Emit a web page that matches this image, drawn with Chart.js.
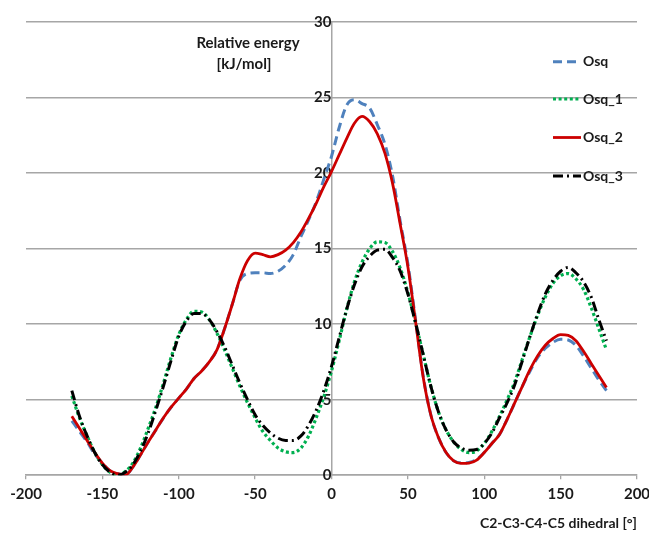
<!DOCTYPE html>
<html>
<head>
<meta charset="utf-8">
<script src="https://cdn.jsdelivr.net/npm/chart.js@4/dist/chart.umd.min.js"></script>
<style>
  html, body { margin: 0; padding: 0; background: #ffffff; }
  #wrap { width: 649px; height: 536px; position: relative; }
</style>
</head>
<body>
<div id="wrap"><canvas id="c" width="649" height="536"></canvas></div>
<script>
// Dihedral angle C2-C3-C4-C5 [deg]
const dihedral = [-170,-165,-160,-155,-150,-145,-140,-135,-130,-125,-120,-115,-110,-105,-100,-95,-90,-85,-80,-75,-70,-65,-60,-55,-50,-45,-40,-35,-30,-25,-20,-15,-10,-5,0,5,10,15,20,25,30,35,40,45,50,55,60,65,70,75,80,85,90,95,100,105,110,115,120,125,130,135,140,145,150,155,160,165,170,175,180];

// Relative energy [kJ/mol]
const osq = [3.6,2.9,2.2,1.4,0.8,0.3,0.1,0.0,0.55,1.35,2.2,3.0,3.8,4.5,5.1,5.7,6.4,6.9,7.5,8.3,9.7,11.3,12.9,13.35,13.4,13.4,13.35,13.5,13.9,14.6,15.8,16.9,18.1,19.6,21.1,23.0,24.5,24.85,24.6,24.3,23.2,21.9,19.8,16.8,14.0,10.3,6.6,4.0,2.5,1.5,0.95,0.8,0.85,1.05,1.5,2.1,2.7,3.7,4.8,5.9,6.9,7.8,8.4,8.8,9.0,8.95,8.6,7.9,7.1,6.3,5.6];
const osq1 = [5.25,3.8,2.6,1.5,0.7,0.2,0.0,0.25,0.8,1.8,3.1,4.5,6.1,7.8,9.3,10.3,10.85,10.8,10.3,9.4,8.3,7.1,5.9,4.8,3.8,2.9,2.3,1.8,1.55,1.5,1.8,2.6,3.8,5.2,6.9,8.9,11.0,12.8,14.1,15.0,15.45,15.4,14.8,13.7,12.1,10.1,8.0,5.9,4.2,3.0,2.2,1.7,1.5,1.6,2.1,2.9,3.9,5.0,6.2,7.7,9.2,10.6,11.8,12.7,13.2,13.35,13.0,12.3,11.1,9.7,8.3];
const osq2 = [3.9,3.1,2.3,1.5,0.8,0.3,0.1,0.0,0.55,1.35,2.2,3.0,3.8,4.5,5.1,5.7,6.4,6.9,7.5,8.3,9.7,11.3,13.0,14.2,14.7,14.6,14.45,14.6,14.9,15.4,16.1,17.0,18.0,19.1,20.1,21.2,22.3,23.3,23.75,23.4,22.6,21.3,19.3,16.6,13.8,10.2,6.5,4.0,2.5,1.5,0.95,0.78,0.8,1.0,1.5,2.1,2.7,3.7,4.8,5.9,7.0,7.9,8.6,9.05,9.3,9.25,8.9,8.2,7.4,6.6,5.8];
const osq3 = [5.6,3.9,2.6,1.5,0.7,0.2,0.0,0.2,0.7,1.6,2.8,4.3,5.9,7.6,9.2,10.2,10.7,10.7,10.3,9.5,8.5,7.3,6.1,5.0,4.0,3.3,2.8,2.45,2.3,2.3,2.6,3.3,4.3,5.6,7.2,9.1,11.0,12.6,13.8,14.5,14.9,14.95,14.4,13.5,12.0,10.1,8.0,5.9,4.2,3.0,2.2,1.8,1.65,1.7,2.1,2.8,3.8,4.8,6.0,7.6,9.2,10.7,12.0,12.9,13.5,13.75,13.4,12.8,11.8,10.3,8.9];

const seriesNames = ['Osq', 'Osq_1', 'Osq_2', 'Osq_3'];
const xTicks = [-200,-150,-100,-50,0,50,100,150,200];
const yTicks = [0,5,10,15,20,25,30];

const FONT = 'Lato, "Open Sans", "Liberation Sans", sans-serif';
const TXT = '#1a1a1a';
const GRID = '#a6a6a6';

function pts(arr) { return dihedral.map((x, i) => ({x: x, y: arr[i]})); }

const styles = [
  {color: '#4f81bd', dash: [9, 5], width: 3, order: 3},
  {color: '#00b050', dash: [3, 2.6], width: 3.2, order: 2},
  {color: '#cc0000', dash: [], width: 2.8, order: 1},
  {color: '#000000', dash: [10, 4, 2, 4], width: 3, order: 0}
];
const values = [osq, osq1, osq2, osq3];

const datasets = values.map((v, i) => ({
  label: seriesNames[i],
  data: pts(v),
  borderColor: styles[i].color,
  backgroundColor: styles[i].color,
  borderDash: styles[i].dash,
  borderWidth: styles[i].width,
  order: styles[i].order,
  pointRadius: 0,
  fill: false,
  cubicInterpolationMode: 'monotone'
}));

const legendPos = [61.7, 99, 137.5, 176];

const customText = {
  id: 'customText',
  afterDraw(chart) {
    const ctx = chart.ctx;
    ctx.save();
    // y-axis title
    ctx.fillStyle = TXT;
    ctx.font = 'bold 15px ' + FONT;
    ctx.textAlign = 'center';
    ctx.textBaseline = 'middle';
    ctx.fillText('Relative energy', 248, 43);
    ctx.fillText('[kJ/mol]', 244, 64);
    // legend
    chart.data.datasets.forEach((ds, i) => {
      const y = legendPos[i];
      ctx.save();
      ctx.strokeStyle = ds.borderColor;
      ctx.lineWidth = ds.borderWidth;
      ctx.setLineDash(ds.borderDash);
      ctx.beginPath();
      ctx.moveTo(553, y);
      ctx.lineTo(581, y);
      ctx.stroke();
      ctx.restore();
      ctx.fillStyle = TXT;
      ctx.font = 'bold 14px ' + FONT;
      ctx.textAlign = 'left';
      ctx.textBaseline = 'middle';
      ctx.fillText(ds.label, 583, y);
    });
    ctx.restore();
  }
};

new Chart(document.getElementById('c'), {
  type: 'line',
  data: { datasets: datasets },
  options: {
    responsive: false,
    animation: false,
    layout: { padding: { top: 22, left: 26, right: 12, bottom: 4 } },
    plugins: { legend: { display: false }, tooltip: { enabled: false } },
    scales: {
      x: {
        type: 'linear',
        min: -200, max: 200,
        afterBuildTicks(scale) { scale.ticks = xTicks.map(v => ({value: v})); },
        afterFit(scale) { scale.paddingLeft = 0; scale.paddingRight = 0; },
        grid: { drawOnChartArea: false, drawTicks: true, tickLength: 4, color: GRID, lineWidth: 1.3 },
        border: { color: GRID, width: 1.5 },
        ticks: { color: TXT, font: { family: FONT, size: 15, weight: 'bold' }, padding: 6, maxRotation: 0, autoSkip: false },
        title: { display: true, text: 'C2-C3-C4-C5 dihedral [°]', align: 'end', color: TXT,
                 font: { family: FONT, size: 14, weight: 'bold' }, padding: { top: 6, bottom: 0 } }
      },
      y: {
        type: 'linear',
        position: { x: 0 },
        min: 0, max: 30,
        afterBuildTicks(scale) { scale.ticks = yTicks.map(v => ({value: v})); },
        grid: { drawTicks: false, color: GRID, lineWidth: 1.5 },
        border: { color: GRID, width: 1.5 },
        ticks: { color: TXT, font: { family: FONT, size: 15, weight: 'bold' }, padding: 6 }
      }
    }
  },
  plugins: [customText]
});
</script>
</body>
</html>
